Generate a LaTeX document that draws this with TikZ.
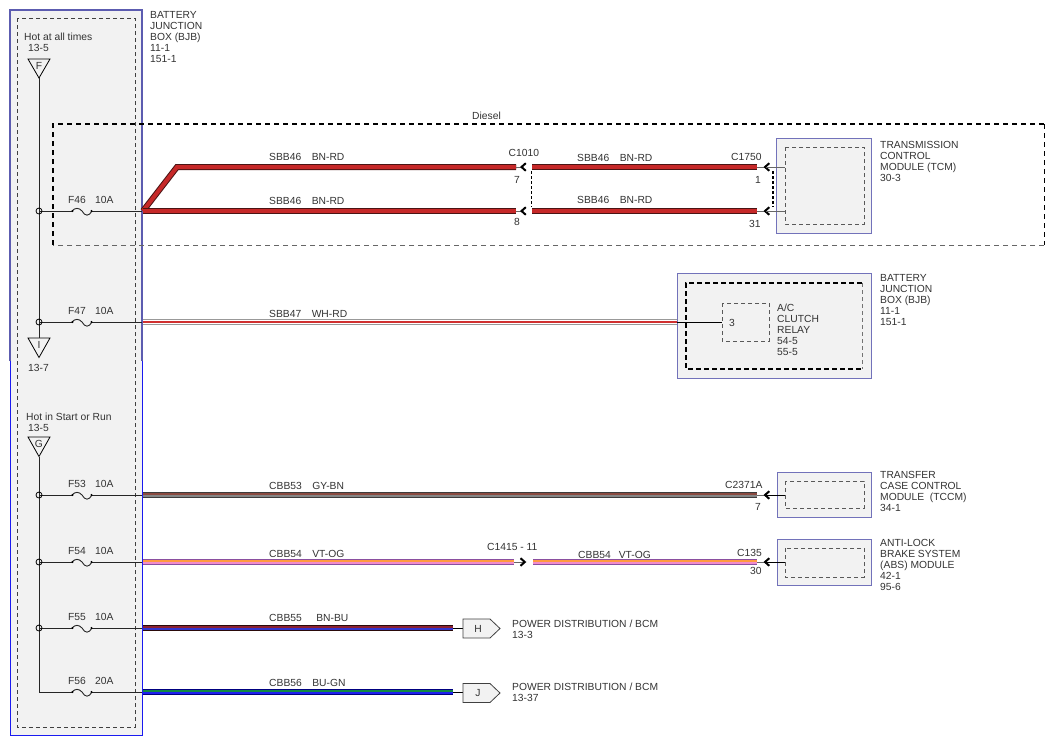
\documentclass[tikz,border=0pt]{standalone}
\usepackage{fontspec}
\setmainfont{Liberation Sans}
\definecolor{txt}{HTML}{333333}
\definecolor{boxfill}{HTML}{F2F2F2}
\definecolor{boxedge}{HTML}{7272BA}
\definecolor{bjbtop}{HTML}{5C5CB0}
\definecolor{bjbblue}{HTML}{1A1AF0}
\definecolor{BNRDo}{HTML}{4A1414}
\definecolor{BNRDf}{HTML}{C62828}
\definecolor{WHRDs}{HTML}{D03030}
\definecolor{GYBNo}{HTML}{3C3C3C}
\definecolor{GYBNf}{HTML}{858585}
\definecolor{GYBNs}{HTML}{8A4A40}
\definecolor{VTOGo}{HTML}{8A4FA0}
\definecolor{VTOGf}{HTML}{F08CCC}
\definecolor{VTOGs}{HTML}{FF9A40}
\definecolor{BNBUo}{HTML}{2A0A0A}
\definecolor{BNBUf}{HTML}{8C2233}
\definecolor{BNBUs}{HTML}{3333CC}
\definecolor{BUGNo}{HTML}{000080}
\definecolor{BUGNf}{HTML}{1F1FEE}
\definecolor{BUGNs}{HTML}{118844}
\tikzset{
  lbl/.style={inner sep=0pt, anchor=west, text=txt, font=\fontsize{10.3}{11}\selectfont},
  mlbl/.style={lbl, anchor=north west, align=left},
  wbase/.style={line width=1pt, double distance=4pt},
  wBNRD/.style={wbase, draw=BNRDo, double=BNRDf},
  wGYBN/.style={wbase, draw=GYBNo, double=GYBNf},
  wVTOG/.style={wbase, draw=VTOGo, double=VTOGf},
  wBNBU/.style={wbase, draw=BNBUo, double=BNBUf},
  wBUGN/.style={wbase, draw=BUGNo, double=BUGNf},
  wWHRD/.style={line width=0.8pt, double distance=3.6pt, draw=gray!80, double=white},
  stripe/.style={line width=1.5pt},
  tline/.style={draw=black!85, line width=0.9pt},
  chev/.style={draw=black, line width=2pt},
  modbox/.style={draw=boxedge, fill=boxfill, line width=0.9pt},
  inbox/.style={draw=black!65, dashed, dash pattern=on 4pt off 3pt, line width=0.8pt},
  inboxthick/.style={draw=black, dash pattern=on 5pt off 3pt, line width=1.5pt},
  tri/.style={draw=black, line width=0.8pt},
}
\begin{document}
\begin{tikzpicture}[x=1pt,y=-1pt]
\useasboundingbox (0,0) rectangle (1054,745);
\fill[white] (0,0) rectangle (1054,745);

% ---------- Battery junction box (left) ----------
\draw[fill=boxfill, draw=bjbblue, line width=1pt] (10,10) rectangle (142,735);
\draw[draw=bjbtop, line width=1.2pt] (10,361) -- (10,10) -- (142,10) -- (142,361);
\draw[inbox, draw=black!75] (17,18) rectangle (135,727);

\node[lbl] (hot1) at (24,36.5) {Hot at all times};
\node[lbl] (hot1n) at (28,48) {13-5};
\draw[tri] (28,59) -- (50,59) -- (39,78) -- cycle;
\node[lbl, anchor=center] (triF) at (39,66) {F};

\draw[tri] (28,338) -- (50,338) -- (39,357.5) -- cycle;
\node[lbl, anchor=center] (triI) at (39,345) {I};
\node[lbl] (triIn) at (28,368) {13-7};

\node[lbl] (hot2) at (26,416.5) {Hot in Start or Run};
\node[lbl] (hot2n) at (28,428) {13-5};
\draw[tri] (28,437) -- (50,437) -- (39,456.5) -- cycle;
\node[lbl, anchor=center] (triG) at (39,444) {G};

% bus
\coordinate (busA) at (39,78);
\coordinate (busB) at (39,338);
\coordinate (busC) at (39,456.5);
\coordinate (busD) at (39,692);
\draw[tline] (busA) -- (busB);
\draw[tline] (busC) -- (busD) -- (72,692);

\foreach \y/\f/\a in {211/F46/10A,322/F47/10A,495/F53/10A,562/F54/10A,628/F55/10A,692/F56/20A}{
  \draw[tline] (39,\y) -- (72,\y);
  \draw[tline] (92,\y) -- (142,\y);
  \draw[black!85, line width=0.9pt] (72,\y) .. controls (75,\y-3.5) and (79,\y-3.5) .. (82,\y) .. controls (85,\y+5.5) and (89,\y+5.5) .. (92,\y);
  \fill[black] (72.5,\y) circle[radius=1.2];
  \fill[black] (91.5,\y) circle[radius=1.2];
  \node[lbl] (fn\f) at (68,\y-11) {\f};
  \node[lbl] (fa\f) at (95,\y-11) {\a};
}
\foreach \y in {211,322,495,562,628}{
  \draw[black, line width=0.8pt] (39,\y) circle[radius=3];
}

% ---------- Diesel box ----------
\draw[black, dash pattern=on 5pt off 4pt, line width=1.4pt] (53,245) -- (53,124) -- (1044,124);
\draw[black, dash pattern=on 5pt off 4pt, line width=1pt] (1044,124) -- (1044,245);
\draw[black!60, dash pattern=on 5pt off 4pt, line width=0.8pt] (1044,245) -- (53,245);
\node[lbl] (diesel) at (472,115.5) {Diesel};

% ---------- TCM ----------
\draw[modbox] (776,138) rectangle (871,233);
\draw[inbox] (785,147) rectangle (864,224);
\node[mlbl] (tcm) at (880,141) {TRANSMISSION\\CONTROL\\MODULE (TCM)\\30-3};

\coordinate (w46s) at (143,211);
\coordinate (w46k) at (177,167);
\coordinate (c1010a) at (516,167);
\coordinate (c1010b) at (516,211);
\coordinate (c1010ar) at (532,167);
\coordinate (c1010br) at (532,211);
\coordinate (c1750a) at (757,167);
\coordinate (c1750b) at (757,211);
\draw[wBNRD, line join=miter] (w46s) -- (w46k) -- (c1010a);
\draw[wBNRD] (w46s) -- (c1010b);
\draw[wBNRD] (c1010ar) -- (c1750a);
\draw[wBNRD] (c1010br) -- (c1750b);

\foreach \y in {167,211}{
  \draw[tline, black!60] (516,\y) -- (521.5,\y);
  \draw[chev] (525.8,\y-3.8) -- (521.5,\y) -- (525.8,\y+3.8);
  \draw[tline, black!60] (757,\y) -- (765,\y);
  \draw[chev] (769.3,\y-3.8) -- (765,\y) -- (769.3,\y+3.8);
  \draw[tline, black!60] (766,\y) -- (785,\y);
}
\draw[black, dashed, dash pattern=on 3pt off 2pt, line width=0.8pt] (531,171) -- (531,207);
\draw[black, dash pattern=on 3pt off 2pt, line width=1.6pt] (773,171) -- (773,207);

\node[lbl] (l46a) at (269,157) {SBB46\hspace{10.5pt}BN-RD};
\node[lbl] (l46b) at (269,200.5) {SBB46\hspace{10.5pt}BN-RD};
\node[lbl] (l46c) at (577,157.5) {SBB46\hspace{10.5pt}BN-RD};
\node[lbl] (l46d) at (577,200) {SBB46\hspace{10.5pt}BN-RD};
\node[lbl] (c1010) at (508.5,153) {C1010};
\node[lbl] (p7) at (514,180) {7};
\node[lbl] (p8) at (514,222) {8};
\node[lbl] (c1750) at (731,157) {C1750};
\node[lbl] (p1) at (755,180) {1};
\node[lbl] (p31) at (749,224) {31};

% ---------- A/C clutch relay ----------
\draw[modbox] (677,273) rectangle (871,378);
\draw[black!55, dash pattern=on 4pt off 3pt, line width=0.8pt] (862,283) -- (862,369);
\draw[inboxthick] (862,283) -- (686,283) -- (686,369) -- (862,369);
\draw[inbox] (722,303) rectangle (769,341);
\node[lbl] (pin3) at (729,323) {3};
\node[mlbl] (relay) at (777,304) {A/C\\CLUTCH\\RELAY\\54-5\\55-5};
\node[mlbl] (bjb2) at (880,274) {BATTERY\\JUNCTION\\BOX (BJB)\\11-1\\151-1};

\coordinate (w47s) at (143,322);
\coordinate (w47e) at (677,322);
\coordinate (r3) at (722,322);
\draw[wWHRD] (w47s) -- (w47e);
\draw[line width=1.3pt, WHRDs] (w47s) -- (w47e);
\draw[black, line width=1pt] (w47e) -- (r3);
\node[lbl] (l47) at (269,314) {SBB47\hspace{10.5pt}WH-RD};

% ---------- TCCM ----------
\draw[modbox] (777,472) rectangle (871,517);
\draw[inbox] (785,481) rectangle (864,508);
\node[mlbl] (tccm) at (880,471) {TRANSFER\\CASE CONTROL\\MODULE\ \ (TCCM)\\34-1};
\coordinate (w53s) at (143,495);
\coordinate (w53e) at (757,495);
\draw[wGYBN] (w53s) -- (w53e);
\draw[stripe, GYBNs] ([yshift=1.2pt]w53s) -- ([yshift=1.2pt]w53e);
\draw[tline, black!60] (757,495) -- (765,495);
\draw[chev] (769.3,491.2) -- (765,495) -- (769.3,498.8);
\draw[black, line width=0.9pt] (766,495) -- (785,495);
\node[lbl] (l53) at (269,485.5) {CBB53\hspace{10.5pt}GY-BN};
\node[lbl] (c2371) at (725,485) {C2371A};
\node[lbl] (p7b) at (755,507) {7};

% ---------- ABS ----------
\draw[modbox] (777,539) rectangle (871,585);
\draw[inbox] (785,548) rectangle (864,577);
\node[mlbl] (abs) at (880,539) {ANTI-LOCK\\BRAKE SYSTEM\\(ABS) MODULE\\42-1\\95-6};
\coordinate (w54s) at (143,562);
\coordinate (w54m) at (514,562);
\coordinate (w54n) at (533,562);
\coordinate (w54e) at (757,562);
\draw[wVTOG] (w54s) -- (w54m);
\draw[wVTOG] (w54n) -- (w54e);
\draw[stripe, VTOGs] ([yshift=1.2pt]w54s) -- ([yshift=1.2pt]w54m);
\draw[stripe, VTOGs] ([yshift=1.2pt]w54n) -- ([yshift=1.2pt]w54e);
\draw[tline, black!60] (514,562) -- (524,562);
\draw[chev] (520.5,558.2) -- (524.8,562) -- (520.5,565.8);
\draw[tline, black!60] (757,562) -- (765,562);
\draw[chev] (769.3,558.2) -- (765,562) -- (769.3,565.8);
\draw[black, line width=0.9pt] (766,562) -- (785,562);
\node[lbl] (l54) at (269,554) {CBB54\hspace{10.5pt}VT-OG};
\node[lbl] (l54b) at (578,555) {CBB54\hspace{8pt}VT-OG};
\node[lbl] (c1415) at (487,547) {C1415 - 11};
\node[lbl] (c135) at (737,553) {C135};
\node[lbl] (p30) at (750,571) {30};

% ---------- Power distribution ----------
\coordinate (w55s) at (143,628);
\coordinate (w55e) at (453,628);
\coordinate (hH) at (463,628);
\draw[wBNBU] (w55s) -- (w55e);
\draw[stripe, BNBUs] ([yshift=-1.2pt]w55s) -- ([yshift=-1.2pt]w55e);
\draw[black, line width=0.9pt] (w55e) -- (hH);
\draw[draw=black!75, fill=boxfill, line width=0.8pt] (463,619) -- (490,619) -- (500,628.5) -- (490,638) -- (463,638) -- cycle;
\node[lbl, anchor=center] (H) at (478,628.5) {H};
\node[mlbl] (pd1) at (512,620) {POWER DISTRIBUTION / BCM\\13-3};
\node[lbl] (l55) at (269,618) {CBB55\hspace{14.5pt}BN-BU};

\coordinate (w56s) at (143,692);
\coordinate (w56e) at (453,692);
\coordinate (hJ) at (463,692);
\draw[wBUGN] (w56s) -- (w56e);
\draw[stripe, BUGNs] ([yshift=1.2pt]w56s) -- ([yshift=1.2pt]w56e);
\draw[black, line width=0.9pt] (w56e) -- (hJ);
\draw[draw=black!75, fill=boxfill, line width=0.8pt] (463,683.5) -- (490,683.5) -- (500,693) -- (490,702.5) -- (463,702.5) -- cycle;
\node[lbl, anchor=center] (J) at (478,693) {J};
\node[mlbl] (pd2) at (512,683) {POWER DISTRIBUTION / BCM\\13-37};
\node[lbl] (l56) at (269,683) {CBB56\hspace{10.5pt}BU-GN};

% top BJB label
\node[mlbl] (bjb1) at (150,11.3) {BATTERY\\JUNCTION\\BOX (BJB)\\11-1\\151-1};
\end{tikzpicture}
\end{document}
